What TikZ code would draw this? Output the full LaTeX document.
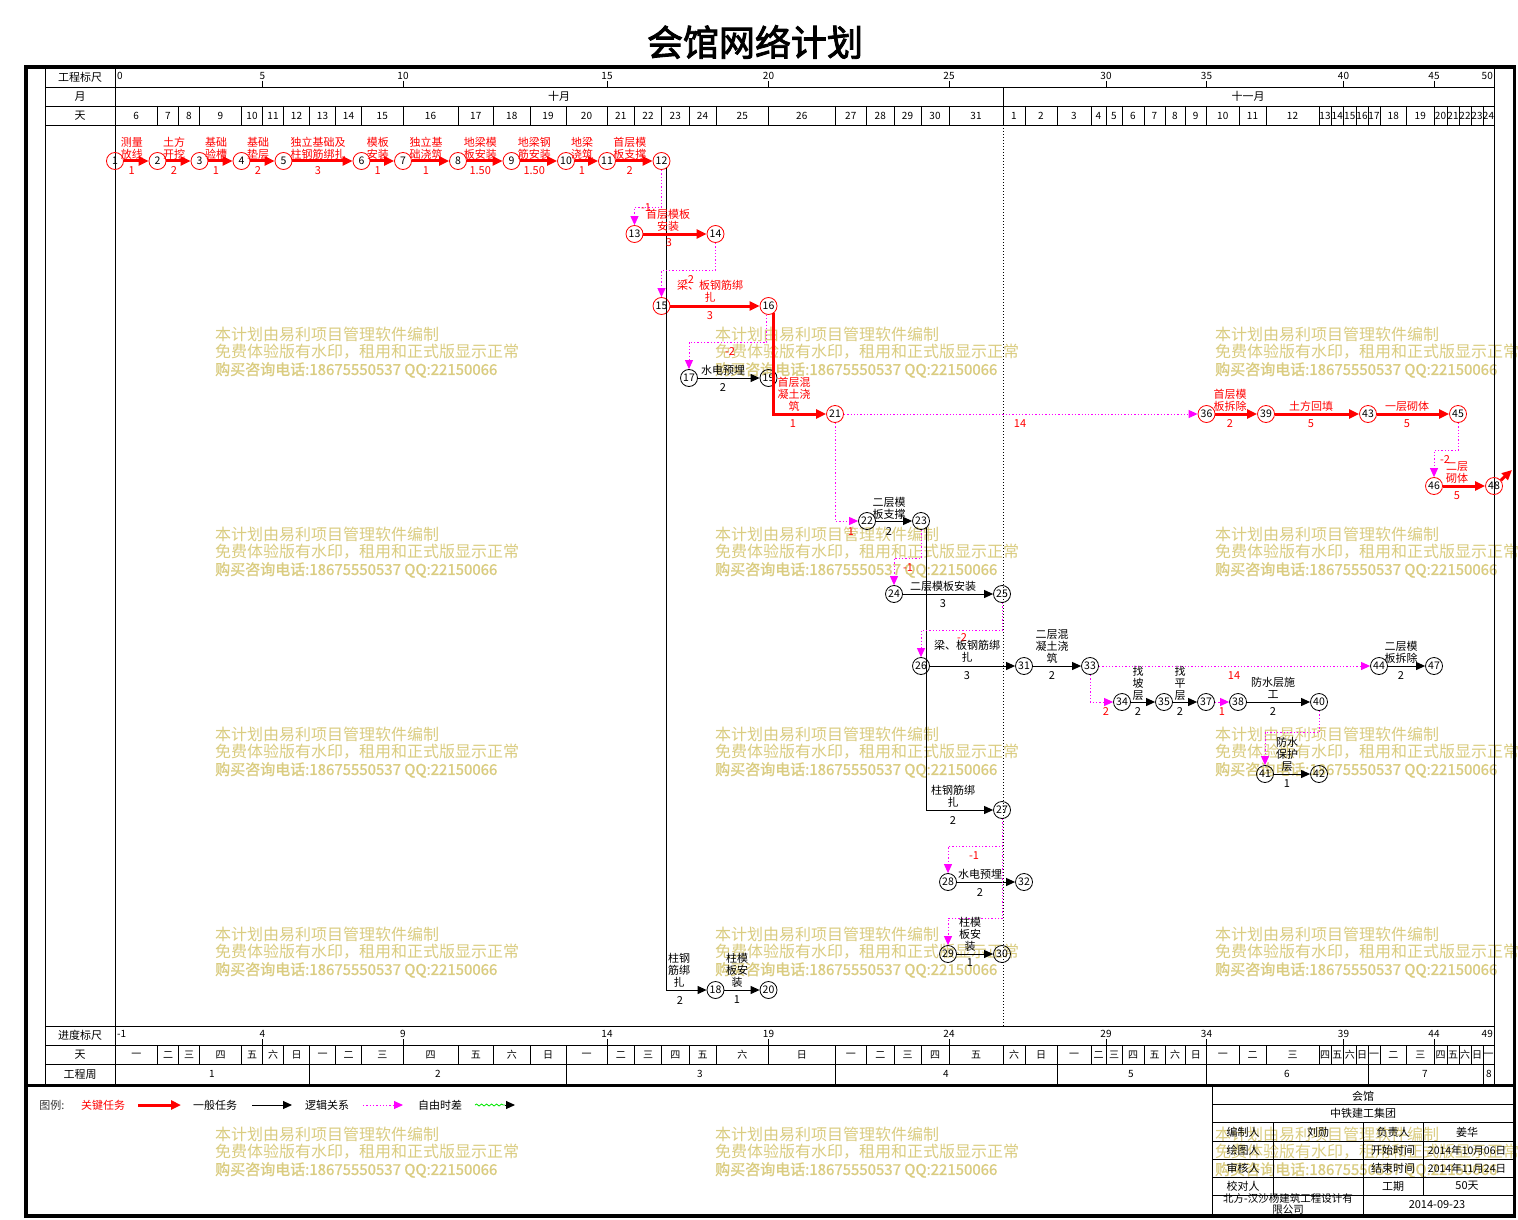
\documentclass[tikz,border=0pt]{standalone}
\usepackage{fontspec}
\setmainfont{Noto Sans CJK SC}
\newfontfamily\titlef{Noto Sans CJK SC}[FakeBold=2.5]
\newfontfamily\wmb{Noto Sans CJK SC}[FakeBold=1.2]
\usetikzlibrary{arrows.meta,calc,decorations.pathmorphing}
\definecolor{wmc}{RGB}{218,204,128}
\definecolor{mag}{RGB}{255,0,255}
\definecolor{lgreen}{RGB}{0,230,0}
\tikzset{
  every node/.style={inner sep=0pt, font=\fontsize{11}{12}\selectfont},
  cnode/.style={circle, draw=red, line width=0.8pt, minimum size=17pt, font=\fontsize{10.5}{10}\selectfont},
  nnode/.style={circle, draw=black, line width=0.8pt, minimum size=17pt, font=\fontsize{10.5}{10}\selectfont},
  carr/.style={draw=red, line width=3pt, -{Triangle[length=10pt,width=9pt]}},
  narr/.style={draw=black, line width=1pt, -{Triangle[length=9pt,width=8pt]}},
  larr/.style={draw=mag, line width=1pt, dash pattern=on 1.3pt off 2pt, -{Triangle[length=9pt,width=8pt]}},
  clab/.style={text=red, align=center},
  nlab/.style={text=black, align=center},
  flab/.style={text=red},
  wmk/.style={anchor=west, text=wmc, font=\fontsize{16}{16}\selectfont},
  gl/.style={line width=0.8pt},
  hdr/.style={font=\fontsize{11}{11}\selectfont},
  dayf/.style={font=\fontsize{10}{10}\selectfont},
}
\begin{document}
\begin{tikzpicture}[x=1pt,y=-1pt]
\useasboundingbox (0,0) rectangle (1518,1220);
\fill[white] (0,0) rectangle (1518,1220);

% ---------- watermark ----------
\foreach \wx/\wy [count=\i] in {215/334,715/334,1215/334,215/534,715/534,1215/534,215/734,715/734,1215/734,215/934,715/934,1215/934,215/1134,715/1134,1215/1134}{
  \node[wmk] (wa\i) at (\wx,\wy) {本计划由易利项目管理软件编制};
  \node[wmk] (wb\i) at (\wx,\wy+18) {免费体验版有水印，租用和正式版显示正常};
  \node[wmk,font=\wmb\fontsize{15}{15}\selectfont] (wc\i) at (\wx,\wy+36) {购买咨询电话:18675550537 QQ:22150066};
}

% ---------- title ----------
\node[font=\titlef\fontsize{36}{36}\selectfont] (title) at (755,42) {会馆网络计划};

% ---------- frame & grid ----------
\draw[line width=3.5pt] (26,67) rectangle (1514.5,1216);
\draw[line width=3pt] (26,1085) -- (1514.5,1085);
\draw[gl] (45,67) -- (45,1085);
\draw[gl] (115,67) -- (115,1085);
\draw[gl] (1494,67) -- (1494,1085);
\foreach \yy in {87,106,125,1026,1045,1064} \draw[gl] (45,\yy) -- (1494,\yy);
\draw[gl] (1003,87) -- (1003,106);
\draw[line width=0.8pt, dash pattern=on 1pt off 2pt] (1003,125) -- (1003,1026);

\node[hdr] (h1) at (80,77) {工程标尺};
\node[hdr] (h2) at (80,96.5) {月};
\node[hdr] (h3) at (80,115.5) {天};
\node[hdr] (h4) at (80,1035.5) {进度标尺};
\node[hdr] (h5) at (80,1054.5) {天};
\node[hdr] (h6) at (80,1074) {工程周};
\node[hdr] (m10) at (559,96.5) {十月};
\node[hdr] (m11) at (1248,96.5) {十一月};

\foreach \l/\r/\d/\w [count=\k] in {115/157.5/6/一, 157.5/178.5/7/二, 178.5/199.5/8/三, 199.5/241.5/9/四, 241.5/262.5/10/五, 262.5/283.5/11/六, 283.5/309.5/12/日, 309.5/335.5/13/一, 335.5/361.5/14/二, 361.5/403/15/三, 403/458/16/四, 458/493.5/17/五, 493.5/530/18/六, 530/566/19/日, 566/607/20/一, 607/634.5/21/二, 634.5/661.5/22/三, 661.5/689/23/四, 689/716/24/五, 716/768.5/25/六, 768.5/835/26/日, 835/866.5/27/一, 866.5/894/28/二, 894/921/29/三, 921/949/30/四, 949/1003/31/五, 1003/1025/1/六, 1025/1057/2/日, 1057/1091/3/一, 1091/1106/4/二, 1106/1122/5/三, 1122/1144/6/四, 1144/1165/7/五, 1165/1185/8/六, 1185/1206.5/9/日, 1206.5/1239/10/一, 1239/1266/11/二, 1266/1319/12/三, 1319/1331/13/四, 1331/1343.5/14/五, 1343.5/1356/15/六, 1356/1368/16/日, 1368/1380/17/一, 1380/1406.5/18/二, 1406.5/1434/19/三, 1434/1447/20/四, 1447/1459/21/五, 1459/1471/22/六, 1471/1483/23/日, 1483/1494/24/一}{
  \draw[gl] (\l,106) -- (\l,125);
  \draw[gl] (\l,1045) -- (\l,1064);
  \node[dayf] (dt\k) at ({(\l+\r)/2},116) {\d};
  \node[dayf] (dw\k) at ({(\l+\r)/2},1055) {\w};
}
% scales
\foreach \k/\p/\xx in {5/4/262.5,10/9/403,15/14/607,20/19/768.5,25/24/949,30/29/1106,35/34/1206.5,40/39/1343.5,45/44/1434}{
  \draw[gl] (\xx,81) -- (\xx,87);
  \node[dayf] (sc\k) at (\xx,76) {\k};
  \draw[gl] (\xx,1039) -- (\xx,1045);
  \node[dayf] (pc\k) at (\xx,1034) {\p};
}
\node[dayf,anchor=west] (sc0) at (117,76) {0};
\node[dayf,anchor=east] (sc50) at (1493,76) {50};
\node[dayf,anchor=west] (pc0) at (117,1034) {-1};
\node[dayf,anchor=east] (pc50) at (1493,1034) {49};
% weeks
\foreach \xx in {309.5,566,835,1057,1206.5,1368,1483} \draw[gl] (\xx,1064) -- (\xx,1085);
\foreach \t/\xx in {1/212,2/438,3/700,4/946,5/1131,6/1287,7/1425,8/1489} \node[dayf] (wk\t) at (\xx,1074) {\t};

% ---------- nodes ----------
\foreach \n/\xx in {1/115,2/157.5,3/199.5,4/241.5,5/283.5,6/361.5,7/403,8/458,9/511.5,10/566,11/607,12/661.5}
  \node[cnode] (n\n) at (\xx,161) {\n};
\node[cnode] (n13) at (634.5,234) {13};
\node[cnode] (n14) at (715.5,234) {14};
\node[cnode] (n15) at (661.5,306) {15};
\node[cnode] (n16) at (768.5,306) {16};
\node[nnode] (n17) at (689,378) {17};
\node[nnode] (n19) at (768.5,378) {19};
\node[cnode] (n21) at (835,414) {21};
\node[cnode] (n36) at (1206.5,414) {36};
\node[cnode] (n39) at (1266,414) {39};
\node[cnode] (n43) at (1368,414) {43};
\node[cnode] (n45) at (1458,414) {45};
\node[cnode] (n46) at (1434,486) {46};
\node[cnode] (n48) at (1494,486) {48};
\node[nnode] (n22) at (867,521) {22};
\node[nnode] (n23) at (921,521) {23};
\node[nnode] (n24) at (894,594) {24};
\node[nnode] (n25) at (1002,594) {25};
\node[nnode] (n26) at (921,666) {26};
\node[nnode] (n31) at (1024,666) {31};
\node[nnode] (n33) at (1090,666) {33};
\node[nnode] (n44) at (1379,666) {44};
\node[nnode] (n47) at (1434,666) {47};
\node[nnode] (n34) at (1122,702) {34};
\node[nnode] (n35) at (1164,702) {35};
\node[nnode] (n37) at (1206,702) {37};
\node[nnode] (n38) at (1238,702) {38};
\node[nnode] (n40) at (1319,702) {40};
\node[nnode] (n41) at (1265,774) {41};
\node[nnode] (n42) at (1319,774) {42};
\node[nnode] (n27) at (1002,810) {27};
\node[nnode] (n28) at (948,882) {28};
\node[nnode] (n32) at (1024,882) {32};
\node[nnode] (n29) at (948,954) {29};
\node[nnode] (n30) at (1002,954) {30};
\node[nnode] (n18) at (715.5,990) {18};
\node[nnode] (n20) at (768.5,990) {20};
\coordinate (c48) at (1512,470);

% ---------- top critical row ----------
\foreach \a/\b/\t/\d in {1/2/{测量\\放线}/1, 2/3/{土方\\开挖}/2, 3/4/{基础\\验槽}/1, 4/5/{基础\\垫层}/2, 5/6/{独立基础及\\柱钢筋绑扎}/3, 6/7/{模板\\安装}/1, 7/8/{独立基\\础浇筑}/1, 8/9/{地梁模\\板安装}/1.50, 9/10/{地梁钢\\筋安装}/1.50, 10/11/{地梁\\浇筑}/1, 11/12/{首层模\\板支撑}/2}{
  \draw[carr] (n\a) -- (n\b);
  \node[clab] (tl\a) at ($(n\a)!0.5!(n\b)+(-4.5,-13)$) {\t};
  \node[flab] (td\a) at ($(n\a)!0.5!(n\b)+(-4.5,10)$) {\d};
}

% ---------- connectors ----------
\draw[narr] (n12.-54) |- (n18.west);
\draw[narr] (n23.-54) |- (n27.west);
\draw[carr] (n13) -- (n14);
\draw[carr] (n15) -- (n16);
\draw[carr] (n16.-54) |- (n21.west);
\draw[carr] (n36) -- (n39);
\draw[carr] (n39) -- (n43);
\draw[carr] (n43) -- (n45);
\draw[carr] (n46) -- (n48);
\draw[carr] (n48.40) -- (c48);
\draw[narr] (n17) -- (n19);
\draw[narr] (n18) -- (n20);
\draw[narr] (n22) -- (n23);
\draw[narr] (n24) -- (n25);
\draw[narr] (n26) -- (n31);
\draw[narr] (n31) -- (n33);
\draw[narr] (n34) -- (n35);
\draw[narr] (n35) -- (n37);
\draw[narr] (n38) -- (n40);
\draw[narr] (n41) -- (n42);
\draw[narr] (n44) -- (n47);
\draw[narr] (n28) -- (n32);
\draw[narr] (n29) -- (n30);
\draw[larr] (n12.south) -- ++(0,37.5) -| (n13.north);
\draw[larr] (n14.south) -- ++(0,27.5) -| (n15.north);
\draw[larr] (n16.-100) -- ++(0,27.5) -| (n17.north);
\draw[larr] (n21.south) |- (n22.west);
\draw[larr] (n21.east) -- (n36.west);
\draw[larr] (n45.south) -- ++(0,27.5) -| (n46.north);
\draw[larr] (n23.south) -- ++(0,28.5) -| (n24.north);
\draw[larr] (n25.south) -- ++(0,27.5) -| (n26.north);
\draw[larr] (n33.south) |- (n34.west);
\draw[larr] (n33.east) -- (n44.west);
\draw[larr] (n37.east) -- (n38.west);
\draw[larr] (n40.south) -- ++(0,22) -| (n41.north);
\draw[larr] (n27.south) -- ++(0,27.5) -| (n28.north);
\draw[larr] (n27.south) -- ++(0,99.5) -| (n29.north);

% ---------- labels ----------
\node[clab] (l13) at (668,220) {首层模板\\安装};
\node[flab] (d13) at (669,243) {3};
\node[flab] (f12) at (646,208) {-1};
\node[clab] (l15) at (710,291) {梁、板钢筋绑\\扎};
\node[flab] (d15) at (710,316) {3};
\node[flab] (f14) at (689,280) {-2};
\node[clab] (l16) at (794,394) {首层混\\凝土浇\\筑};
\node[flab] (d16) at (793,424) {1};
\node[nlab] (l17) at (723,370) {水电预埋};
\node (d17) at (723,388) {2};
\node[flab] (f16) at (730,352) {-2};
\node[flab] (f21) at (1020,424) {14};
\node[flab] (f21b) at (851,532) {1};
\node[clab] (l36) at (1230,400) {首层模\\板拆除};
\node[flab] (d36) at (1230,424) {2};
\node[clab] (l39) at (1311,406) {土方回填};
\node[flab] (d39) at (1311,424) {5};
\node[clab] (l43) at (1407,406) {一层砌体};
\node[flab] (d43) at (1407,424) {5};
\node[flab] (f45) at (1445,460) {-2};
\node[clab] (l46) at (1457,473) {二层\\砌体};
\node[flab] (d46) at (1457,496) {5};
\node[nlab] (l22) at (889,508) {二层模\\板支撑};
\node (d22) at (889,532) {2};
\node[flab] (f23) at (908,568) {-1};
\node[nlab] (l24) at (943,586) {二层模板安装};
\node (d24) at (943,604) {3};
\node[flab] (f25) at (962,638) {-2};
\node[nlab] (l26) at (967,651) {梁、板钢筋绑\\扎};
\node (d26) at (967,676) {3};
\node[nlab] (l31) at (1052,646) {二层混\\凝土浇\\筑};
\node (d31) at (1052,676) {2};
\node[flab] (f33) at (1234,676) {14};
\node[nlab] (l44) at (1401,652) {二层模\\板拆除};
\node (d44) at (1401,676) {2};
\node[flab] (f33b) at (1106,712) {2};
\node[nlab] (l34) at (1138,683) {找\\坡\\层};
\node (d34) at (1138,712) {2};
\node[nlab] (l35) at (1180,683) {找\\平\\层};
\node (d35) at (1180,712) {2};
\node[flab] (f37) at (1222,712) {1};
\node[nlab] (l38) at (1273,688) {防水层施\\工};
\node (d38) at (1273,712) {2};
\node[nlab] (l41) at (1287,754) {防水\\保护\\层};
\node (d41) at (1287,784) {1};
\node[nlab] (l23) at (953,796) {柱钢筋绑\\扎};
\node (d23) at (953,820) {2};
\node[flab] (f27) at (974,856) {-1};
\node[nlab] (l28) at (980,874) {水电预埋};
\node (d28) at (980,892) {2};
\node[nlab] (l29) at (970,934) {柱模\\板安\\装};
\node (d29) at (970,963) {1};
\node[nlab] (l12) at (679,970) {柱钢\\筋绑\\扎};
\node (d12) at (680,1000) {2};
\node[nlab] (l18) at (737,970) {柱模\\板安\\装};
\node (d18) at (737,1000) {1};

% ---------- legend ----------
\node[font=\fontsize{11}{11}\selectfont, text=black!80] (lg0) at (52,1105) {图例:};
\node[font=\fontsize{11}{11}\selectfont, text=red] (lg1) at (103,1105) {关键任务};
\coordinate (la1) at (138,1105); \coordinate (la2) at (181,1105);
\draw[carr] (la1) -- (la2);
\node[font=\fontsize{11}{11}\selectfont] (lg2) at (215,1105) {一般任务};
\coordinate (lb1) at (252,1105); \coordinate (lb2) at (292,1105);
\draw[narr] (lb1) -- (lb2);
\node[font=\fontsize{11}{11}\selectfont] (lg3) at (327,1105) {逻辑关系};
\coordinate (lc1) at (363,1105); \coordinate (lc2) at (403,1105);
\draw[larr] (lc1) -- (lc2);
\node[font=\fontsize{11}{11}\selectfont] (lg4) at (440,1105) {自由时差};
\coordinate (ld1) at (475,1105); \coordinate (ld2) at (505,1105); \coordinate (ld3) at (515,1105);
\draw[lgreen, line width=0.8pt, decorate, decoration={snake,amplitude=1pt,segment length=5pt}] (ld1) -- (ld2);
\draw[narr] (ld2) -- (ld3);

% ---------- title block ----------
\draw[gl] (1212,1087) -- (1212,1216);
\foreach \yy in {1104,1122,1141,1159,1177,1195} \draw[gl] (1212,\yy) -- (1514,\yy);
\draw[gl] (1273,1122) -- (1273,1195);
\draw[gl] (1363,1122) -- (1363,1216);
\draw[gl] (1423,1122) -- (1423,1195);
\node (tb1) at (1363,1096) {会馆};
\node (tb2) at (1363,1113.5) {中铁建工集团};
\node (tb3) at (1243,1132) {编制人};
\node (tb4) at (1318,1132) {刘勋};
\node (tb5) at (1393,1132) {负责人};
\node (tb6) at (1467,1132) {姜华};
\node (tb7) at (1243,1150) {绘图人};
\node (tb8) at (1393,1150) {开始时间};
\node[font=\fontsize{10.5}{11}\selectfont] (tb9) at (1467,1150) {2014年10月06日};
\node (tb10) at (1243,1168) {审核人};
\node (tb11) at (1393,1168) {结束时间};
\node[font=\fontsize{10.5}{11}\selectfont] (tb12) at (1467,1168) {2014年11月24日};
\node (tb13) at (1243,1186) {校对人};
\node (tb14) at (1393,1186) {工期};
\node (tb15) at (1467,1186) {50天};
\node[align=center, font=\fontsize{10.5}{11}\selectfont] (tb16) at (1288,1204) {北方-汉沙杨建筑工程设计有\\限公司};
\node (tb17) at (1437,1205) {2014-09-23};
\end{tikzpicture}
\end{document}
